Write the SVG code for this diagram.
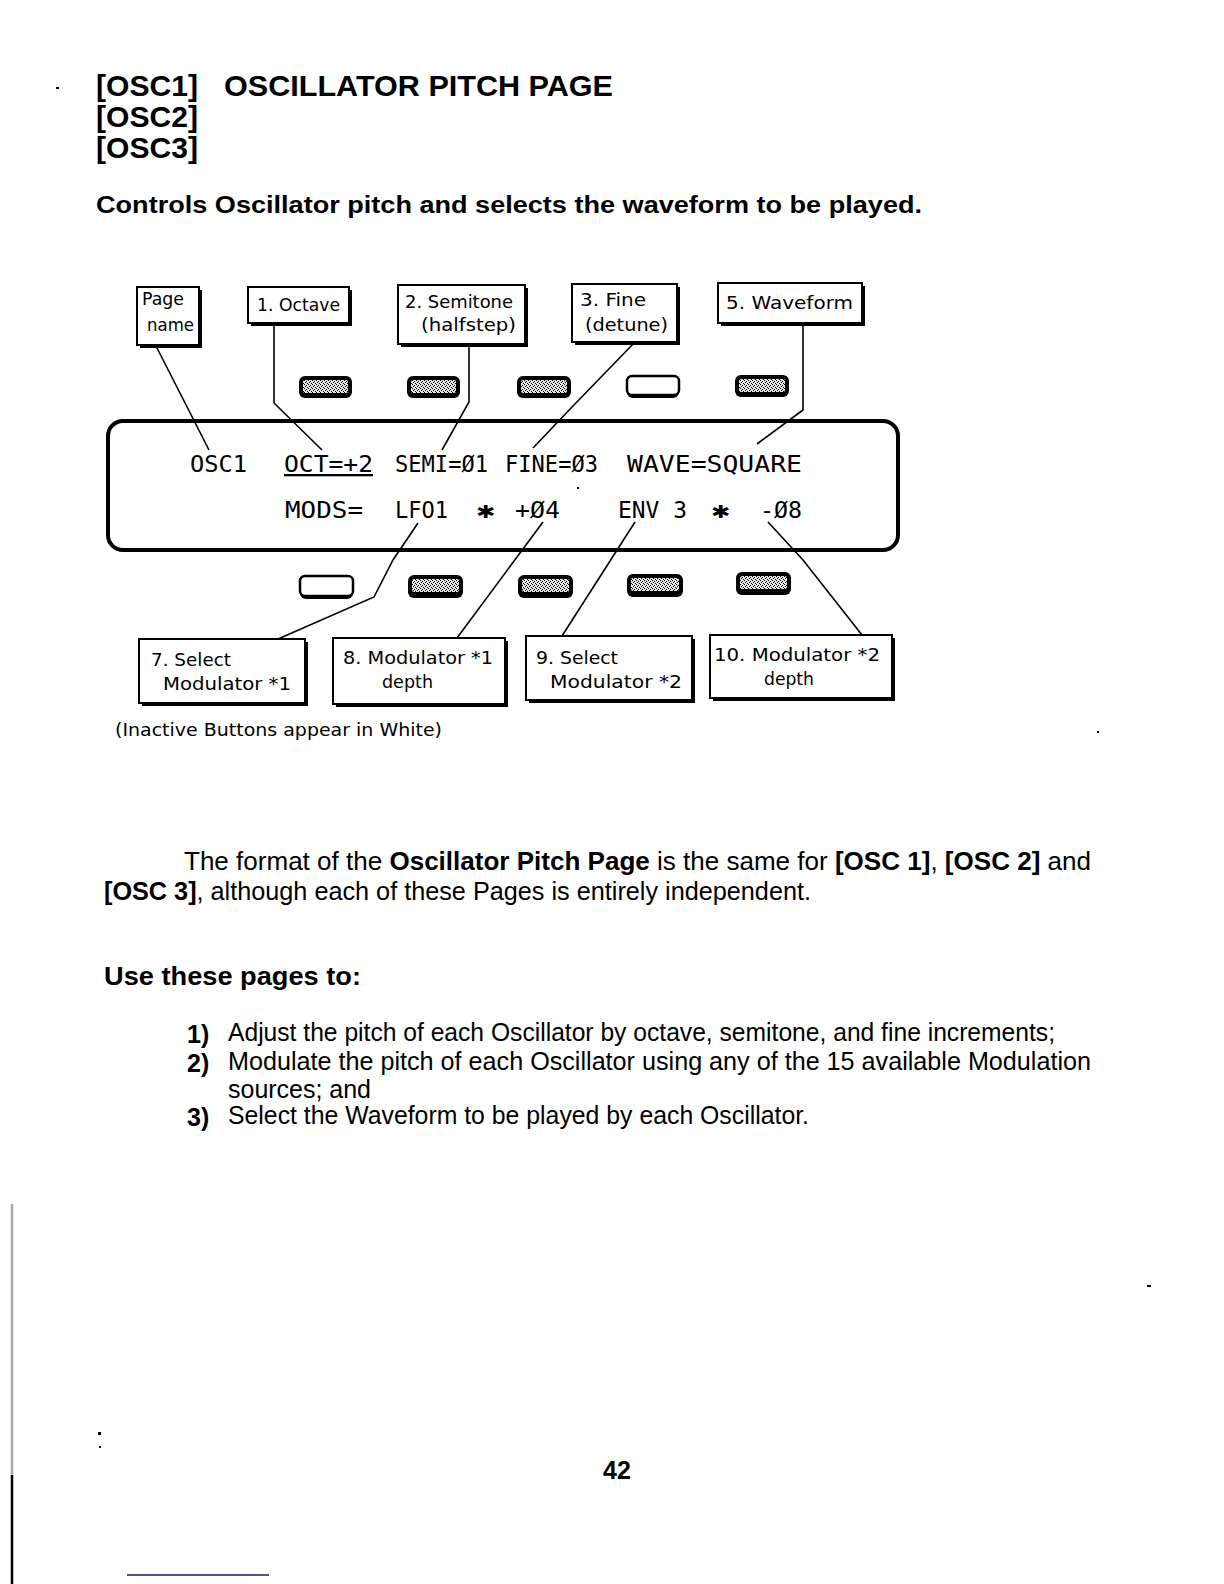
<svg xmlns="http://www.w3.org/2000/svg" width="1224" height="1584" viewBox="0 0 1224 1584">
<defs>
<pattern id="dither" width="4" height="4" patternUnits="userSpaceOnUse">
<rect width="4" height="4" fill="#e6e6e6"/>
<rect x="0" y="0" width="1" height="1" fill="#000"/>
<rect x="2" y="1" width="1" height="1" fill="#000"/>
<rect x="1" y="2" width="1" height="1" fill="#000"/>
<rect x="3" y="3" width="1" height="1" fill="#000"/>
</pattern>
<style>
.h{font-family:"Liberation Sans",Arial,sans-serif;font-weight:bold;fill:#000}
.body{font-family:"Liberation Sans",Arial,sans-serif;font-size:25px;fill:#000}
.b{font-weight:bold}
.lbl{font-family:"DejaVu Sans",sans-serif;font-size:17px;fill:#000}
.lcd{font-family:"DejaVu Sans Mono",monospace;font-size:23px;fill:#000}
.shadow{fill:#000}
.box{fill:#fff;stroke:#000;stroke-width:2}
.conn{fill:none;stroke:#000;stroke-width:1.6}
.panel{fill:#fff;stroke:#000;stroke-width:4}
.bd{fill:#000}
.bi{fill:url(#dither)}
.bw{fill:#fff;stroke:#000;stroke-width:2.5}
</style>
</defs>
<rect width="1224" height="1584" fill="#fff"/>

<!-- header -->
<g id="title">
<text class="h" x="96" y="96" font-size="30" textLength="102" lengthAdjust="spacingAndGlyphs">[OSC1]</text>
<text class="h" x="224" y="96" font-size="30" textLength="389" lengthAdjust="spacingAndGlyphs">OSCILLATOR PITCH PAGE</text>
<text class="h" x="96" y="127" font-size="30" textLength="102" lengthAdjust="spacingAndGlyphs">[OSC2]</text>
<text class="h" x="96" y="158" font-size="30" textLength="102" lengthAdjust="spacingAndGlyphs">[OSC3]</text>
<text class="h" x="96" y="213" font-size="23" textLength="826" lengthAdjust="spacingAndGlyphs">Controls Oscillator pitch and selects the waveform to be played.</text>
</g>
<rect x="56" y="87" width="3" height="2" fill="#000"/>

<!-- display panel -->
<g id="display">
<rect class="panel" x="108" y="421" width="790" height="129" rx="15"/>
<text class="lcd" x="190" y="472" textLength="57" lengthAdjust="spacingAndGlyphs">OSC1</text>
<text class="lcd" x="284" y="472" textLength="89" lengthAdjust="spacingAndGlyphs" text-decoration="underline">OCT=+2</text>
<text class="lcd" x="395" y="472" textLength="93" lengthAdjust="spacingAndGlyphs">SEMI=Ø1</text>
<text class="lcd" x="505" y="472" textLength="93" lengthAdjust="spacingAndGlyphs">FINE=Ø3</text>
<text class="lcd" x="627" y="472" textLength="175" lengthAdjust="spacingAndGlyphs">WAVE=SQUARE</text>
<text class="lcd" x="285" y="518" textLength="78" lengthAdjust="spacingAndGlyphs">MODS=</text>
<text class="lcd" x="395" y="518" textLength="53" lengthAdjust="spacingAndGlyphs">LFO1</text>
<text class="lcd" x="477" y="518" font-family="DejaVu Sans" textLength="18" lengthAdjust="spacingAndGlyphs">✱</text>
<text class="lcd" x="515" y="518" textLength="45" lengthAdjust="spacingAndGlyphs">+Ø4</text>
<text class="lcd" x="618" y="518" textLength="69" lengthAdjust="spacingAndGlyphs">ENV 3</text>
<text class="lcd" x="712" y="518" font-family="DejaVu Sans" textLength="18" lengthAdjust="spacingAndGlyphs">✱</text>
<text class="lcd" x="760" y="518" textLength="42" lengthAdjust="spacingAndGlyphs">-Ø8</text>
<rect x="577" y="487" width="2" height="2" fill="#000"/>
</g>

<!-- buttons top row -->
<g id="buttons-top">
<rect class="bd" x="299" y="376" width="53" height="22" rx="6"/><rect class="bi" x="303" y="380" width="45" height="13" rx="2"/>
<rect class="bd" x="407" y="376" width="53" height="22" rx="6"/><rect class="bi" x="411" y="380" width="45" height="13" rx="2"/>
<rect class="bd" x="517" y="376" width="54" height="22" rx="6"/><rect class="bi" x="521" y="380" width="46" height="13" rx="2"/>
<rect class="bd" x="627" y="378" width="52" height="20" rx="6"/><rect class="bw" x="627" y="376" width="52" height="19" rx="5"/>
<rect class="bd" x="735" y="375" width="54" height="22" rx="6"/><rect class="bi" x="739" y="379" width="46" height="13" rx="2"/>
</g>

<!-- buttons bottom row -->
<g id="buttons-bottom">
<rect class="bd" x="300" y="578" width="53" height="21" rx="6"/><rect class="bw" x="300" y="576" width="53" height="20" rx="5"/>
<rect class="bd" x="408" y="575" width="55" height="23" rx="6"/><rect class="bi" x="412" y="579" width="47" height="13" rx="2"/>
<rect class="bd" x="518" y="575" width="55" height="23" rx="6"/><rect class="bi" x="522" y="579" width="47" height="13" rx="2"/>
<rect class="bd" x="627" y="574" width="56" height="23" rx="6"/><rect class="bi" x="631" y="578" width="48" height="13" rx="2"/>
<rect class="bd" x="736" y="572" width="55" height="23" rx="6"/><rect class="bi" x="740" y="576" width="47" height="13" rx="2"/>
</g>

<!-- connectors -->
<g id="connectors">
<polyline class="conn" points="156,346 209,450"/>
<polyline class="conn" points="274,323 274,403 322,450"/>
<polyline class="conn" points="469,344 469,402 442,450"/>
<polyline class="conn" points="635,342 572,407 533,448"/>
<polyline class="conn" points="803,323 803,410 757,444"/>
<polyline class="conn" points="418,523 393,560 374,597 278,639"/>
<polyline class="conn" points="543,522 457,638"/>
<polyline class="conn" points="635,522 562,636"/>
<polyline class="conn" points="768,522 803,560 862,635"/>
</g>

<!-- top label nodes -->
<g id="node-page-name">
<rect class="shadow" x="140" y="290" width="62" height="58"/><rect class="box" x="137" y="287" width="62" height="58"/>
<text class="lbl" x="142" y="305" textLength="42" lengthAdjust="spacingAndGlyphs">Page</text>
<text class="lbl" x="147" y="331" textLength="47" lengthAdjust="spacingAndGlyphs">name</text>
</g>
<g id="node-octave">
<rect class="shadow" x="251" y="290" width="101" height="36"/><rect class="box" x="248" y="287" width="101" height="36"/>
<text class="lbl" x="257" y="311" textLength="83" lengthAdjust="spacingAndGlyphs">1. Octave</text>
</g>
<g id="node-semitone">
<rect class="shadow" x="401" y="288" width="127" height="59"/><rect class="box" x="398" y="285" width="127" height="59"/>
<text class="lbl" x="405" y="308" textLength="108" lengthAdjust="spacingAndGlyphs">2. Semitone</text>
<text class="lbl" x="421" y="331" textLength="95" lengthAdjust="spacingAndGlyphs">(halfstep)</text>
</g>
<g id="node-fine">
<rect class="shadow" x="575" y="287" width="105" height="58"/><rect class="box" x="572" y="284" width="105" height="58"/>
<text class="lbl" x="580" y="306" textLength="66" lengthAdjust="spacingAndGlyphs">3. Fine</text>
<text class="lbl" x="585" y="331" textLength="83" lengthAdjust="spacingAndGlyphs">(detune)</text>
</g>
<g id="node-waveform">
<rect class="shadow" x="721" y="286" width="144" height="40"/><rect class="box" x="718" y="283" width="144" height="40"/>
<text class="lbl" x="726" y="309" textLength="127" lengthAdjust="spacingAndGlyphs">5. Waveform</text>
</g>

<!-- bottom label nodes -->
<g id="node-select-mod1">
<rect class="shadow" x="142" y="642" width="166" height="64"/><rect class="box" x="139" y="639" width="166" height="64"/>
<text class="lbl" x="151" y="666" textLength="80" lengthAdjust="spacingAndGlyphs">7. Select</text>
<text class="lbl" x="163" y="690" textLength="128" lengthAdjust="spacingAndGlyphs">Modulator *1</text>
</g>
<g id="node-mod1-depth">
<rect class="shadow" x="336" y="641" width="172" height="66"/><rect class="box" x="333" y="638" width="172" height="66"/>
<text class="lbl" x="343" y="664" textLength="150" lengthAdjust="spacingAndGlyphs">8. Modulator *1</text>
<text class="lbl" x="382" y="688" textLength="51" lengthAdjust="spacingAndGlyphs">depth</text>
</g>
<g id="node-select-mod2">
<rect class="shadow" x="529" y="639" width="166" height="64"/><rect class="box" x="526" y="636" width="166" height="64"/>
<text class="lbl" x="536" y="664" textLength="82" lengthAdjust="spacingAndGlyphs">9. Select</text>
<text class="lbl" x="550" y="688" textLength="132" lengthAdjust="spacingAndGlyphs">Modulator *2</text>
</g>
<g id="node-mod2-depth">
<rect class="shadow" x="713" y="638" width="182" height="63"/><rect class="box" x="710" y="635" width="182" height="63"/>
<text class="lbl" x="714" y="661" textLength="166" lengthAdjust="spacingAndGlyphs">10. Modulator *2</text>
<text class="lbl" x="764" y="685" textLength="50" lengthAdjust="spacingAndGlyphs">depth</text>
</g>

<text class="lbl" x="115" y="736" textLength="327" lengthAdjust="spacingAndGlyphs">(Inactive Buttons appear in White)</text>
<rect x="1097" y="731" width="2" height="2" fill="#000"/>

<!-- body text -->
<g id="body">
<text class="body" x="184" y="870" textLength="907" lengthAdjust="spacingAndGlyphs">The format of the <tspan class="b">Oscillator Pitch Page</tspan> is the same for <tspan class="b">[OSC 1]</tspan>, <tspan class="b">[OSC 2]</tspan> and</text>
<text class="body" x="104" y="900" textLength="707" lengthAdjust="spacingAndGlyphs"><tspan class="b">[OSC 3]</tspan>, although each of these Pages is entirely independent.</text>
<text class="body b" x="104" y="985" textLength="257" lengthAdjust="spacingAndGlyphs">Use these pages to:</text>
<text class="body b" x="187" y="1043">1)</text>
<text class="body" x="228" y="1041" textLength="827" lengthAdjust="spacingAndGlyphs">Adjust the pitch of each Oscillator by octave, semitone, and fine increments;</text>
<text class="body b" x="187" y="1072">2)</text>
<text class="body" x="228" y="1070" textLength="863" lengthAdjust="spacingAndGlyphs">Modulate the pitch of each Oscillator using any of the 15 available Modulation</text>
<text class="body" x="228" y="1098" textLength="143" lengthAdjust="spacingAndGlyphs">sources; and</text>
<text class="body b" x="187" y="1126">3)</text>
<text class="body" x="228" y="1124" textLength="581" lengthAdjust="spacingAndGlyphs">Select the Waveform to be played by each Oscillator.</text>
</g>

<rect x="1147" y="1285" width="4" height="2" fill="#000"/>
<rect x="98" y="1432" width="3" height="3" fill="#000"/>
<rect x="99" y="1446" width="2" height="2" fill="#000"/>

<text class="h" x="603" y="1479" font-size="25">42</text>

<line x1="12" y1="1204" x2="12" y2="1475" stroke="#aaa" stroke-width="2.5"/>
<line x1="12" y1="1475" x2="12" y2="1584" stroke="#000" stroke-width="2.5"/>
<line x1="127" y1="1575" x2="269" y2="1575" stroke="#1a1a7a" stroke-width="1.5"/>
</svg>
